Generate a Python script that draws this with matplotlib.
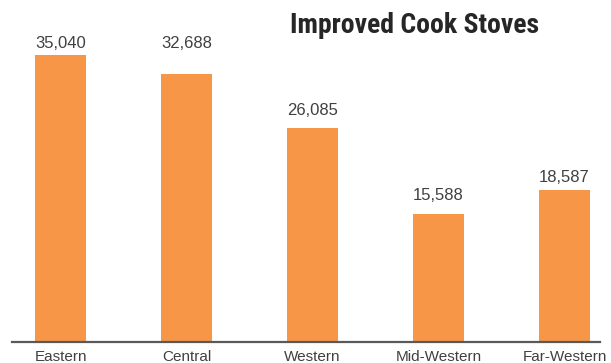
import matplotlib.pyplot as plt

regions = ['Eastern', 'Central', 'Western', 'Mid-Western', 'Far-Western']
stoves = [35040, 32688, 26085, 15588, 18587]

# gap (points) between each bar top and its value label
label_gap = [5.5, 19.2, 9.8, 10.5, 5.5]

bar_colour = '#F79646'
text_colour = '#404040'

plt.rcParams['font.family'] = ['Liberation Sans', 'DejaVu Sans']

fig = plt.figure(figsize=(6.11, 3.63), dpi=100)
ax = fig.add_axes([12 / 611, 21.5 / 363, 588 / 611, 341.5 / 363])

x = range(len(regions))
bars = ax.bar(x, stoves, width=0.405, color=bar_colour)

for b, v, g in zip(bars, stoves, label_gap):
    ax.annotate(f'{v:,}', (b.get_x() + b.get_width() / 2, v),
                xytext=(0, g), textcoords='offset points',
                ha='center', va='baseline', fontsize=12, color=text_colour)

ax.set_xlim(-0.385, 4.282)
ax.set_ylim(0, 41800)
ax.set_xticks(list(x))
ax.set_xticklabels(regions, fontsize=11, color=text_colour)
ax.tick_params(axis='x', length=0, pad=6)
ax.set_yticks([])

for side in ['top', 'right', 'left']:
    ax.spines[side].set_visible(False)
ax.spines['bottom'].set_color('#595959')
ax.spines['bottom'].set_linewidth(1.6)

fig.text(414.5 / 611, 1 - 33 / 363, 'Improved Cook Stoves', ha='center',
         va='baseline', fontsize=20, fontweight='bold', color='#262626',
         family=['Roboto Condensed', 'Liberation Sans Narrow', 'Liberation Sans'])

fig.savefig('out.png', dpi=100)
